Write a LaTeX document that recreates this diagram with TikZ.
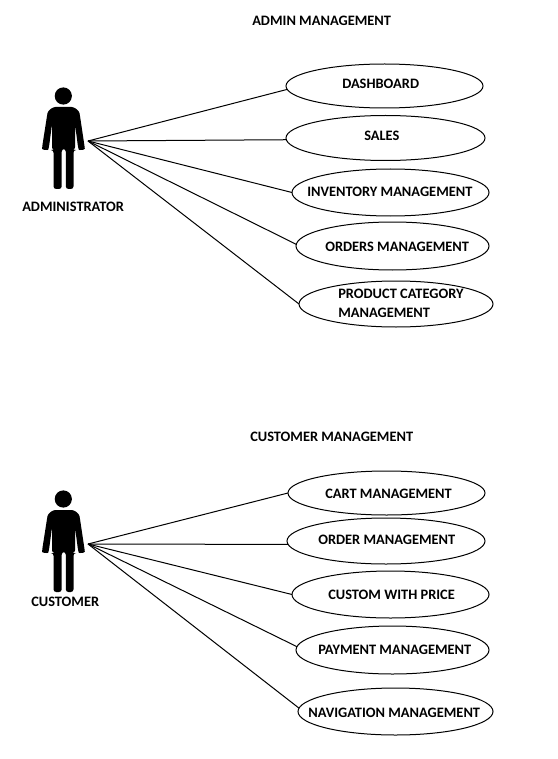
\documentclass[tikz,border=0pt]{standalone}
\usepackage{fontspec}
\setmainfont{Carlito}
\usetikzlibrary{shapes.geometric}
\tikzset{
  uc/.style={draw=black,line width=0.75pt,ellipse,inner sep=0pt,outer sep=0pt},
  lbl/.style={font=\bfseries\fontsize{10.8}{13}\selectfont,inner sep=0pt,anchor=base west},
  conn/.style={draw=black,line width=0.75pt},
  actor/.pic={
    \begin{scope}[yscale=-1]
    \fill[black] (63.3,96) circle (8.6);
    \fill[black,rounded corners=2pt] (53.5,189) -- (53.5,150) -- (52,150) -- (52,124)
      -- (49,147) .. controls (48,150.5) and (42,150) .. (42.3,146)
      -- (47,116) .. controls (48,110) and (53,107) .. (58,107) -- (69,107)
      .. controls (74,107) and (79,110) .. (80,116) -- (84.5,146)
      .. controls (85,150) and (79,150.5) .. (78,147)
      -- (75,124) -- (75,150) -- (73.5,150) -- (73.5,189) -- (65.8,189) -- (65.8,149) -- (61.7,149) -- (61.7,189) -- cycle;
    \end{scope}
  }
}
\begin{document}
\begin{tikzpicture}[x=0.75pt,y=0.75pt]
\useasboundingbox (0,0) rectangle (557,-759);
\fill[white] (0,0) rectangle (557,-759);
\pic at (0,0) {actor};
\pic at (0,-403) {actor};
\coordinate (hubA) at (88,-141);
\coordinate (hubB) at (88,-544);
\node[uc,minimum width=147.75pt,minimum height=33pt] (d1) at (384.5,-86) {};
\node[uc,minimum width=149.25pt,minimum height=33.75pt] (d2) at (385.5,-138) {};
\node[uc,minimum width=147.75pt,minimum height=35.25pt] (d3) at (390.5,-192.5) {};
\node[uc,minimum width=144.75pt,minimum height=36pt] (d4) at (392.5,-246) {};
\node[uc,minimum width=145.5pt,minimum height=34.5pt] (d5) at (396,-304) {};
\node[uc,minimum width=147.75pt,minimum height=33pt] (c1) at (386.5,-493) {};
\node[uc,minimum width=148.5pt,minimum height=34.5pt] (c2) at (386,-541) {};
\node[uc,minimum width=147.75pt,minimum height=35.25pt] (c3) at (390.5,-594.5) {};
\node[uc,minimum width=144.75pt,minimum height=36pt] (c4) at (392.5,-650) {};
\node[uc,minimum width=146.25pt,minimum height=35.25pt] (c5) at (395.5,-711.5) {};
\draw[conn] (hubA) -- (d1.182);
\draw[conn] (hubA) -- (d2.181.5);
\draw[conn] (hubA) -- (d3.west);
\draw[conn] (hubA) -- (d4.179);
\draw[conn] (hubA) -- (d5.west);
\draw[conn] (hubB) -- (c1.west);
\draw[conn] (hubB) -- (c2.182);
\draw[conn] (hubB) -- (c3.west);
\draw[conn] (hubB) -- (c4.178.4);
\draw[conn] (hubB) -- (c5.178.7);
\node[lbl] (t1) at (252,-26) {ADMIN MANAGEMENT};
\node[lbl] (t2) at (250,-441) {CUSTOMER MANAGEMENT};
\node[lbl] (a1) at (22,-211) {ADMINISTRATOR};
\node[lbl] (a2) at (31,-606) {CUSTOMER};
\node[lbl] (l1) at (342,-89) {DASHBOARD};
\node[lbl] (l2) at (364,-141) {SALES};
\node[lbl] (l3) at (307,-197) {INVENTORY MANAGEMENT};
\node[lbl] (l4) at (325,-251) {ORDERS MANAGEMENT};
\node[lbl] (l5a) at (338,-298) {PRODUCT CATEGORY};
\node[lbl] (l5b) at (338,-317) {MANAGEMENT};
\node[lbl] (m1) at (325,-498) {CART MANAGEMENT};
\node[lbl] (m2) at (318,-544) {ORDER MANAGEMENT};
\node[lbl] (m3) at (328,-599) {CUSTOM WITH PRICE};
\node[lbl] (m4) at (318,-654) {PAYMENT MANAGEMENT};
\node[lbl] (m5) at (308,-717) {NAVIGATION MANAGEMENT};
\end{tikzpicture}
\end{document}
